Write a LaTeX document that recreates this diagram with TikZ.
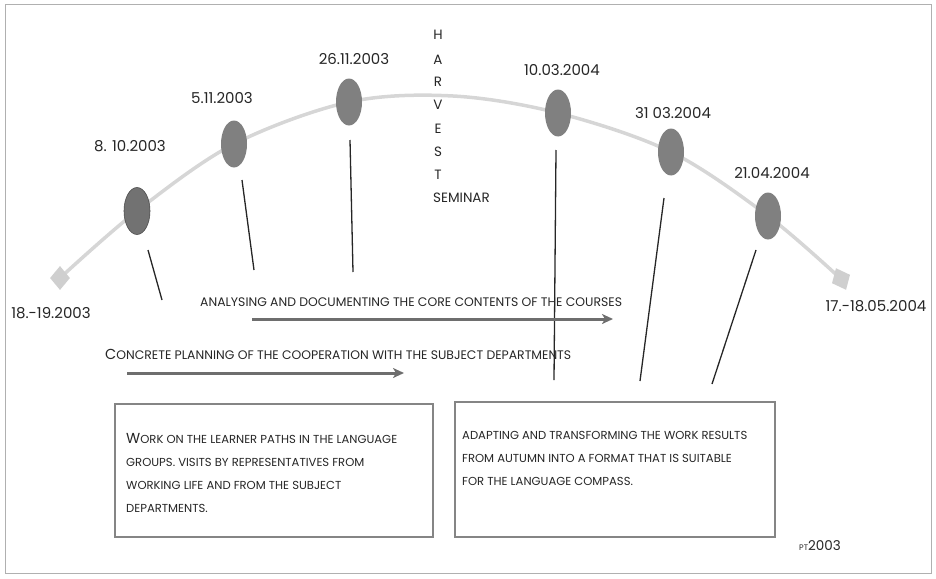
\documentclass[tikz,border=0pt]{standalone}
\usepackage{fontspec}
\setmainfont{Poppins}
\usetikzlibrary{shapes.geometric,arrows.meta,backgrounds}
\definecolor{framegray}{HTML}{B0B0B0}
\definecolor{arcgray}{HTML}{D6D6D6}
\definecolor{diamondgray}{HTML}{CFCFCF}
\definecolor{dotgray}{HTML}{808080}
\definecolor{dotdark}{HTML}{727272}
\definecolor{arrowgray}{HTML}{6E6E6E}
\definecolor{boxgray}{HTML}{858585}
\definecolor{txt}{HTML}{262626}
\newcommand{\initcap}[1]{{\fontsize{14.5}{12}\selectfont #1}}
\tikzset{
  dot/.style={ellipse, minimum width=26pt, minimum height=47pt, inner sep=0pt, fill=dotgray, draw=none},
  enddiamond/.style={diamond, minimum width=20pt, minimum height=24pt, inner sep=0pt, fill=diamondgray, draw=none},
  datelabel/.style={font=\fontsize{15}{15}\selectfont, text=txt, inner sep=0pt},
  letter/.style={font=\fontsize{13.5}{14}\selectfont, text=txt, inner sep=0pt},
  tick/.style={line width=1.3pt, black!85},
  bararrow/.style={line width=3pt, arrowgray, -{Stealth[length=11pt,width=10pt,inset=3pt]}},
  phase/.style={font=\fontsize{12.4}{14}\selectfont, text=txt, inner sep=0pt, anchor=west},
  infobox/.style={draw=boxgray, line width=2pt},
  boxtext/.style={font=\fontsize{11.6}{23}\selectfont, text=txt, inner sep=0pt, anchor=north west, align=left}
}
\begin{document}
\begin{tikzpicture}[x=1pt,y=-1pt]
\useasboundingbox (0,0) rectangle (936,578);
\draw[framegray, line width=1pt] (5,5) rectangle (931,573);

% end points and milestones
\node[enddiamond] (s) at (60,278) {};
\node[enddiamond, rotate=25] (e) at (841,279) {};
\node[dot, fill=dotdark, draw=dotgray!60!black, line width=0.6pt] (n1) at (137,211) {};
\node[dot] (n2) at (234,144) {};
\node[dot] (n3) at (349,102) {};
\node[dot] (n4) at (558,113) {};
\node[dot] (n5) at (671,152) {};
\node[dot] (n6) at (768,216) {};

% timeline arc (behind)
\begin{scope}[on background layer]
\draw[arcgray, line width=3.5pt, line cap=round] plot[smooth, tension=0.55] coordinates {(s) (n1) (n2) (n3) (453,96) (n4) (n5) (n6) (e)};
\end{scope}

% date labels
\node[datelabel] (l0) at (51,313) {18.-19.2003};
\node[datelabel] (l1) at (130,146) {8. 10.2003};
\node[datelabel] (l2) at (222,98) {5.11.2003};
\node[datelabel] (l3) at (354,59) {26.11.2003};
\node[datelabel] (l4) at (562,70) {10.03.2004};
\node[datelabel] (l5) at (673,113) {31 03.2004};
\node[datelabel] (l6) at (772,173) {21.04.2004};
\node[datelabel] (l7) at (876,306) {17.-18.05.2004};

% HARVEST SEMINAR
\node[letter] (hH) at (438,35) {H};
\node[letter] (hA) at (438,60) {A};
\node[letter] (hR) at (438,82) {R};
\node[letter] (hV) at (438,105) {V};
\node[letter] (hE) at (438,129) {E};
\node[letter] (hS) at (438,152) {S};
\node[letter] (hT) at (438,175) {T};
\node[letter, anchor=west] (hSem) at (433,198) {SEMINAR};

% tick lines
\coordinate (t1a) at (148,250); \coordinate (t1b) at (162,300);
\coordinate (t2a) at (242,180); \coordinate (t2b) at (254,270);
\coordinate (t3a) at (350,140); \coordinate (t3b) at (353,272);
\coordinate (t4a) at (556,150); \coordinate (t4b) at (554,380);
\coordinate (t5a) at (664,198); \coordinate (t5b) at (640,381);
\coordinate (t6a) at (756,250); \coordinate (t6b) at (712,384);
\draw[tick] (t1a) -- (t1b);
\draw[tick] (t2a) -- (t2b);
\draw[tick] (t3a) -- (t3b);
\draw[tick] (t4a) -- (t4b);
\draw[tick] (t5a) -- (t5b);
\draw[tick] (t6a) -- (t6b);

% phase arrows
\node[phase] (p1) at (200,302) {ANALYSING AND DOCUMENTING THE CORE CONTENTS OF THE COURSES};
\coordinate (a1s) at (252,319); \coordinate (a1e) at (613,319);
\draw[bararrow] (a1s) -- (a1e);
\node[phase] (p2) at (105,354) {\initcap{C}ONCRETE PLANNING OF THE COOPERATION WITH THE SUBJECT DEPARTMENTS};
\coordinate (a2s) at (127,373); \coordinate (a2e) at (404,373);
\draw[bararrow] (a2s) -- (a2e);

% boxes
\draw[infobox] (115,404) rectangle (433,537);
\node[boxtext] (b1) at (126,433) {\initcap{W}ORK ON THE LEARNER PATHS IN THE LANGUAGE\\GROUPS. VISITS BY REPRESENTATIVES FROM\\WORKING LIFE AND FROM THE SUBJECT\\DEPARTMENTS.};
\draw[infobox] (455,402) rectangle (775,537);
\node[boxtext] (b2) at (462,431) {ADAPTING AND TRANSFORMING THE WORK RESULTS\\FROM AUTUMN INTO A FORMAT THAT IS SUITABLE\\FOR THE LANGUAGE COMPASS.};

% signature
\node[inner sep=0pt, text=txt, anchor=west] (sig) at (799,546) {{\fontsize{8}{8}\selectfont PT}{\fontsize{13.5}{14}\selectfont 2003}};
\end{tikzpicture}
\end{document}
